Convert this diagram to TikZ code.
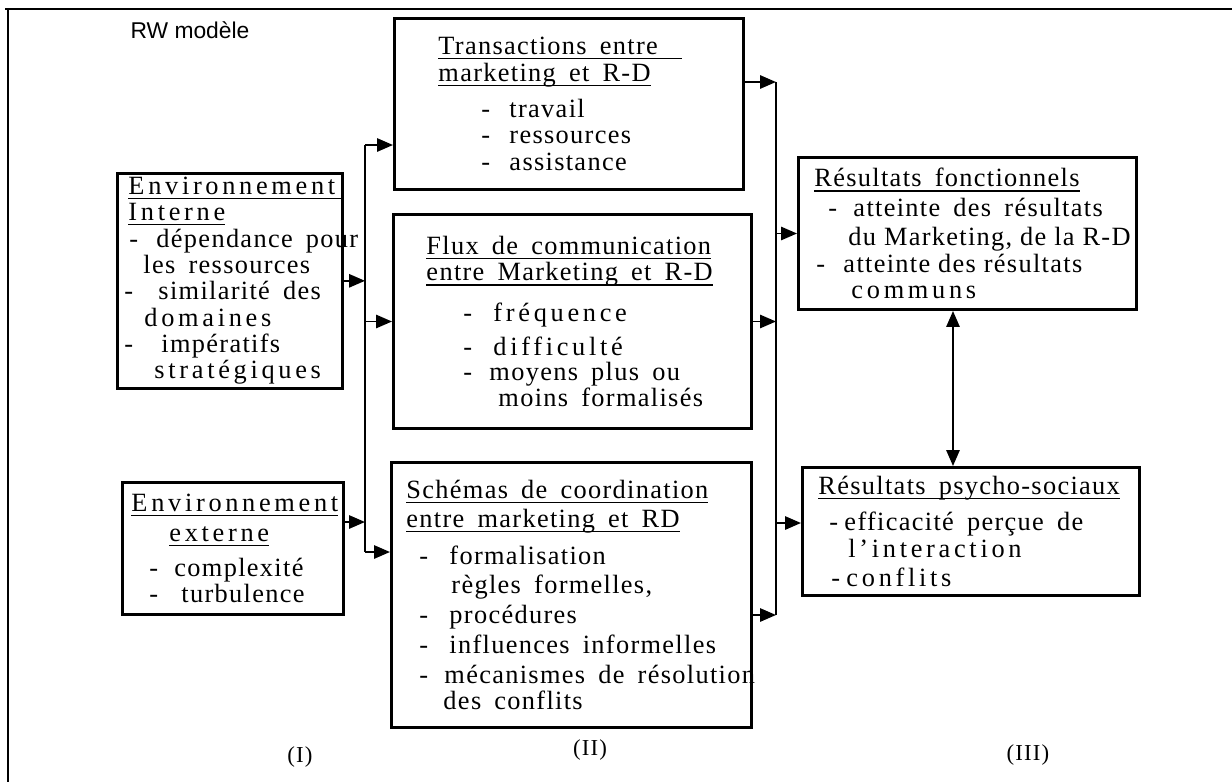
\documentclass[tikz,border=0pt]{standalone}
\usepackage{fontspec}
\setmainfont{Liberation Serif}[LetterSpace=5]
\newfontfamily\helv{Liberation Sans}
\usepackage{tikz}
\usetikzlibrary{arrows.meta}
\usetikzlibrary{positioning}
\newdimen\unitpx \unitpx=0.02cm
\newcommand\ind[1]{\hspace*{#1\unitpx}}
\newcommand\puce[2]{\hspace*{#1\unitpx}\makebox[#2\unitpx][l]{-}}
\newcommand\ecart[1]{{\addfontfeature{LetterSpace=14}#1}}
\newcommand\souligne[1]{\setbox0\hbox{#1}\rlap{\rule[-2.6pt]{\wd0}{0.6pt}}\box0}

\begin{document}
\begin{tikzpicture}[x=0.02cm, y=-0.02cm,
    bloc/.style={draw, line width=1.7pt, anchor=north west, align=left,
      inner xsep=0pt, inner ysep=2pt, font=\fontsize{15}{15}\selectfont,
      execute at begin node={\spaceskip=0.5em plus 0.2em minus 0.1em\relax}},
    fleche/.style={line width=1.1pt, -{Triangle[length=9pt,width=7.5pt]}},
    fleche2/.style={line width=1.1pt, {Triangle[length=9pt,width=7.5pt]}-{Triangle[length=9pt,width=7.5pt]}},
    numero/.style={font=\fontsize{13}{13}\selectfont}]
  \useasboundingbox (0,0) rectangle (1232,782);
  % cadre
  \draw[line width=1.6pt] (5,9) -- (1232,9);
  \draw[line width=1.1pt] (8,9) -- (8,782);
  \node [font=\helv\fontsize{13}{13}\selectfont] (titre) at (190,30) {RW modèle};

  % colonne I
  \node [bloc, text width=225\unitpx, minimum height=212\unitpx] (interne) at (116,172) {%
    \ind{11}\souligne{\ecart{Environnement}\hspace{6\unitpx}}\\
    \ind{11}\souligne{\ecart{Interne}}\\
    \puce{12}{27}\mbox{dépendance pour}\\
    \ind{26}les ressources\\
    \puce{7}{34}similarité des\\
    \ind{27}\ecart{domaines}\\
    \puce{7}{37}impératifs\\
    \ind{37}\ecart{stratégiques}};
  \node [bloc, text width=221\unitpx, minimum height=132\unitpx] (externe) at (121,481) {%
    \ind{9}\souligne{\ecart{Environnement}}\\[4\unitpx]
    \ind{47}\souligne{\ecart{externe}}\\[8\unitpx]
    \puce{27}{25}complexité\\
    \puce{27}{32}turbulence};

  % colonne II
  \node [bloc, text width=349\unitpx, minimum height=171\unitpx] (trans) at (393,17) {%
    \ind{44}\souligne{Transactions entre\hspace{24\unitpx}}\\
    \ind{44}\souligne{marketing et R-D}\\[10\unitpx]
    \puce{87}{28}travail\\
    \puce{87}{28}ressources\\
    \puce{87}{28}assistance};
  \node [bloc, text width=358\unitpx, minimum height=214\unitpx] (flux) at (392,213) {%
    \ind{33}\souligne{Flux de communication}\\
    \ind{33}\souligne{entre Marketing et R-D}\\[14\unitpx]
    \puce{70}{30}\ecart{fréquence}\\[8\unitpx]
    \puce{70}{30}\ecart{difficulté}\\[-2\unitpx]
    \puce{70}{26}moyens plus ou\\
    \ind{105}moins formalisés};
  \node [bloc, text width=360\unitpx, minimum height=265\unitpx] (schemas) at (390,461) {%
    \ind{15}\souligne{Schémas de coordination}\\[3\unitpx]
    \ind{15}\souligne{entre marketing et RD}\\[10\unitpx]
    \puce{28}{30}formalisation\\[3\unitpx]
    \ind{60}règles formelles,\\[4\unitpx]
    \puce{28}{30}procédures\\[3\unitpx]
    \puce{28}{30}influences informelles\\[4\unitpx]
    \puce{28}{25}\mbox{mécanismes de résolution}\\
    \ind{52}des conflits};

  % colonne III
  \node [bloc, text width=338\unitpx, minimum height=152\unitpx] (fonct) at (797,156) {%
    \ind{16}\souligne{Résultats fonctionnels}\\[3\unitpx]
    \puce{30}{25}atteinte des résultats\\[3\unitpx]
    \ind{50}\mbox{\spaceskip=0.3em du Marketing, de la R-D}\\
    \puce{18}{27}\mbox{\spaceskip=0.3em atteinte des résultats}\\
    \ind{53}\ecart{communs}};
  \node [bloc, text width=337\unitpx, minimum height=128\unitpx] (psycho) at (801,466) {%
    \ind{16}\souligne{Résultats psycho-sociaux}\\[10\unitpx]
    \puce{27}{15}efficacité perçue de\\
    \ind{46}\ecart{l'interaction}\\[3\unitpx]
    \puce{29}{15}\ecart{conflits}};

  \node [numero] (n1) at (300,757) {(I)};
  \node [numero] (n2) at (590,750) {(II)};
  \node [numero] (n3) at (1028,755) {(III)};

  % liaisons gauche
  \coordinate (ghaut) at (365,145);
  \coordinate (gbas) at (365,552);
  \coordinate (gext) at (365,522);
  \draw [line width=1.1pt] (ghaut) -- (gbas);
  \draw [fleche] (ghaut) -- (trans.west |- ghaut);
  \draw [fleche] (interne.east) -- (interne.east -| ghaut);
  \draw [fleche] (flux.west -| ghaut) -- (flux.west);
  \draw [fleche] (externe.east |- gext) -- (gext);
  \draw [fleche] (gbas) -- (schemas.west |- gbas);

  % liaisons droite
  \coordinate (dhaut) at (776,82);
  \coordinate (dbas) at (776,615);
  \coordinate (dpsy) at (776,523);
  \coordinate (dvert) at (953,0);
  \draw [line width=1.1pt] (dhaut) -- (dbas);
  \draw [fleche] (trans.east |- dhaut) -- (dhaut);
  \draw [fleche] (flux.east) -- (flux.east -| dhaut);
  \draw [fleche] (schemas.east |- dbas) -- (dbas);
  \draw [fleche] (fonct.west -| dhaut) -- (fonct.west);
  \draw [fleche] (dpsy) -- (psycho.west |- dpsy);
  \draw [fleche2] (fonct.south -| dvert) -- (psycho.north -| dvert);
\end{tikzpicture}
\end{document}
